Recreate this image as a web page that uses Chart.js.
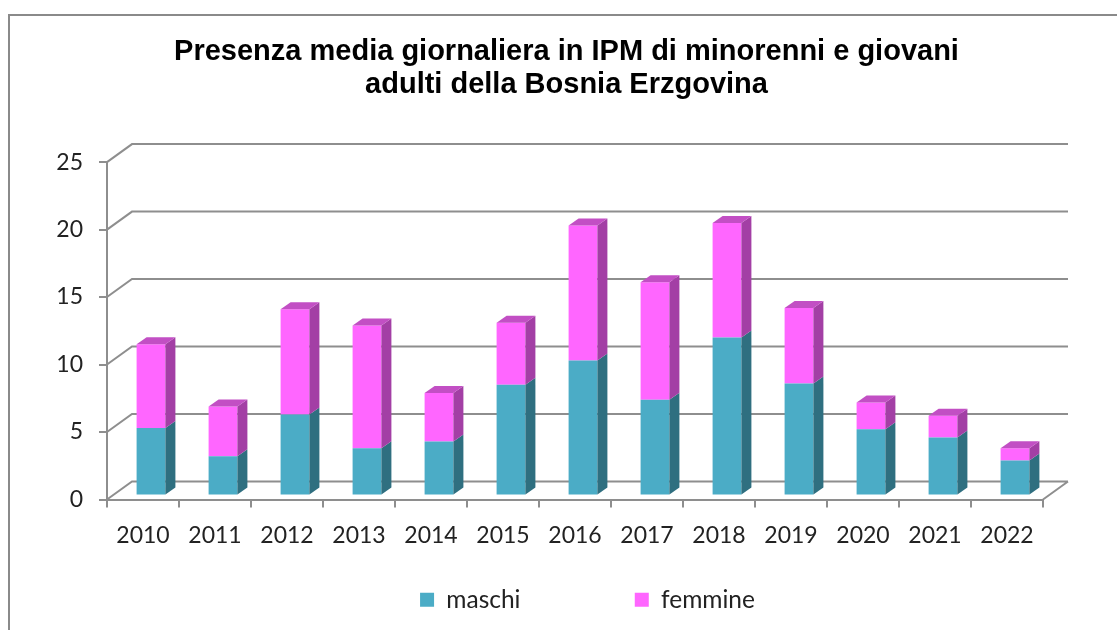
<!DOCTYPE html>
<html>
<head>
<meta charset="utf-8">
<script src="https://cdn.jsdelivr.net/npm/chart.js@4.4.1/dist/chart.umd.min.js"></script>
<style>
  html, body { margin: 0; padding: 0; background: #fff; }
  canvas { display: block; }
</style>
</head>
<body>
<canvas id="graficoIpm" width="1117" height="630"></canvas>
<script>
// dati
const anni = ['2010', '2011', '2012', '2013', '2014', '2015', '2016', '2017', '2018', '2019', '2020', '2021', '2022'];
const maschi = [5.0, 2.9, 6.0, 3.5, 4.0, 8.2, 10.0, 7.1, 11.7, 8.3, 4.9, 4.3, 2.6];
const femmine = [6.2, 3.7, 7.8, 9.1, 3.6, 4.6, 10.0, 8.7, 8.5, 5.6, 2.0, 1.6, 0.9];
const titolo = ['Presenza media giornaliera in IPM di minorenni e giovani', 'adulti della Bosnia Erzgovina'];
const asseMin = 0, asseMax = 25, passo = 5;

// colori: fronte, lato, sopra
const coloriFronte = ['#4BACC6', '#FF66FF'];
const coloriLato = ['#2F6F80', '#A33FA5'];
const coloriSopra = ['#3E8FA5', '#C24FC4'];
const grigio = '#8e8e8e';

// effetto 3D
const PARETE_X = 25, PARETE_Y = 18;   // parete di fondo
const BARRE_X = 8, BARRE_Y = 4;       // piano delle barre
const LATO_X = 10, LATO_Y = 7;        // profondita barre

const cornice3d = {
    id: 'cornice3d',
    afterLayout(chart) {
        // titolo e legenda un po' spostati a destra come nell'originale
        chart.titleBlock.left += 40;
        chart.titleBlock.right += 40;
        chart.legend.left += 61;
        chart.legend.right += 61;
    },
    beforeDraw(chart) {
        const ctx = chart.ctx;
        ctx.save();
        ctx.fillStyle = '#fff';
        ctx.fillRect(0, 0, chart.width, chart.height);
        ctx.strokeStyle = '#8a8a8a';
        ctx.lineWidth = 2;
        ctx.strokeRect(9, 15, chart.width + 20, chart.height + 20);
        ctx.restore();
    },
    beforeDatasetsDraw(chart) {
        const {ctx, chartArea, scales} = chart;
        const y = scales.y;
        ctx.save();
        ctx.strokeStyle = grigio;
        ctx.lineWidth = 2;
        ctx.beginPath();
        y.ticks.forEach(t => {
            const py = y.getPixelForValue(t.value);
            ctx.moveTo(chartArea.left, py);
            ctx.lineTo(chartArea.left + PARETE_X, py - PARETE_Y);
            ctx.lineTo(chartArea.right + PARETE_X, py - PARETE_Y);
        });
        const y0 = y.getPixelForValue(asseMin);
        ctx.moveTo(chartArea.right, y0);
        ctx.lineTo(chartArea.right + PARETE_X, y0 - PARETE_Y);
        ctx.stroke();
        ctx.restore();
        // le barre stanno un po' dentro il pavimento
        ctx.save();
        ctx.translate(BARRE_X, -BARRE_Y);
    },
    afterDatasetsDraw(chart) {
        const ctx = chart.ctx;
        const ultimo = chart.data.datasets.length - 1;
        chart.data.datasets.forEach((ds, i) => {
            chart.getDatasetMeta(i).data.forEach(barra => {
                const {x, y, base, width} = barra.getProps(['x', 'y', 'base', 'width'], true);
                const sx = x - width / 2, dx = x + width / 2;
                ctx.fillStyle = coloriLato[i];
                ctx.beginPath();
                ctx.moveTo(dx, y);
                ctx.lineTo(dx + LATO_X, y - LATO_Y);
                ctx.lineTo(dx + LATO_X, base - LATO_Y);
                ctx.lineTo(dx, base);
                ctx.closePath();
                ctx.fill();
                if (i === ultimo) {
                    ctx.fillStyle = coloriSopra[i];
                    ctx.beginPath();
                    ctx.moveTo(sx, y);
                    ctx.lineTo(sx + LATO_X, y - LATO_Y);
                    ctx.lineTo(dx + LATO_X, y - LATO_Y);
                    ctx.lineTo(dx, y);
                    ctx.closePath();
                    ctx.fill();
                }
            });
        });
        ctx.restore();
    }
};

const fontAssi = {family: 'Lato, "Open Sans", sans-serif', size: 23};
const fontLegenda = {family: 'Lato, "Open Sans", sans-serif', size: 24.5};

const grafico = new Chart(document.getElementById('graficoIpm'), {
    type: 'bar',
    data: {
        labels: anni,
        datasets: [{
            label: 'maschi',
            data: maschi,
            backgroundColor: coloriFronte[0],
            borderWidth: 0
        }, {
            label: 'femmine',
            data: femmine,
            backgroundColor: coloriFronte[1],
            borderWidth: 0
        }]
    },
    options: {
        responsive: false,
        animation: false,
        layout: {padding: {left: 10, right: 74, top: 16, bottom: 8}},
        datasets: {bar: {categoryPercentage: 1, barPercentage: 0.4}},
        scales: {
            x: {
                stacked: true,
                grid: {offset: true, drawOnChartArea: false, tickLength: 8, color: grigio, lineWidth: 2},
                border: {color: grigio, width: 2},
                ticks: {font: fontAssi, color: '#222', padding: 14, maxRotation: 0},
                afterFit: s => { s.height = 78; }
            },
            y: {
                stacked: true,
                min: asseMin,
                max: asseMax,
                grid: {drawOnChartArea: false, tickLength: 8, color: grigio, lineWidth: 2},
                border: {color: grigio, width: 2},
                ticks: {stepSize: passo, font: fontAssi, color: '#222', padding: 16},
                afterFit: s => { s.width = 97; }
            }
        },
        plugins: {
            title: {
                display: true,
                text: titolo,
                color: '#000',
                font: {family: '"Liberation Sans", Arial, sans-serif', size: 29, weight: 'bold', lineHeight: 1.15},
                padding: {top: 18.85, bottom: 60.55}
            },
            legend: {
                position: 'bottom',
                labels: {
                    font: fontLegenda,
                    color: '#222',
                    boxWidth: 14,
                    boxHeight: 14,
                    padding: 10,
                    generateLabels(chart) {
                        const voci = Chart.defaults.plugins.legend.labels.generateLabels(chart);
                        voci[0].text = voci[0].text + '\u2002'.repeat(8) + ' ';
                        return voci;
                    }
                }
            },
            tooltip: {enabled: false}
        }
    },
    plugins: [cornice3d]
});
</script>
</body>
</html>
